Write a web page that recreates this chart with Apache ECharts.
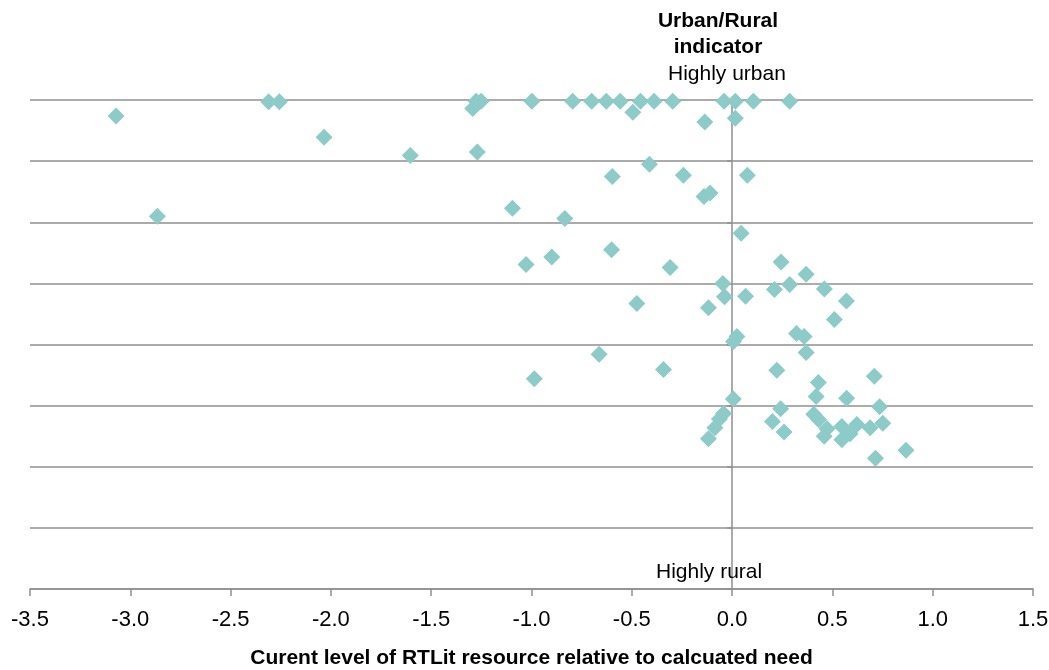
<!DOCTYPE html>
<html>
<head>
<meta charset="utf-8">
<script src="https://cdn.jsdelivr.net/npm/echarts@6/dist/echarts.min.js"></script>
<style>
html,body{margin:0;padding:0;background:#fff;}
#chart{width:1049px;height:670px;}
</style>
</head>
<body>
<div id="chart"></div>
<script>
// Current level of RTLit resource relative to calculated need (x)
const resourceLevel = [
  -3.071,-2.310,-2.257,-2.034,-1.604,-1.270,-1.293,-1.276,-1.251,-2.865,
  -1.095,-0.998,-0.795,-0.700,-0.627,-0.558,-0.457,-0.389,-0.296,-0.040,
  0.016,0.106,0.287,-0.495,-0.136,0.016,-0.412,-0.597,-0.243,-0.140,
  -0.110,0.076,-0.834,0.045,-1.027,-0.899,-0.601,-0.309,0.244,0.369,
  -0.046,-0.038,0.067,-0.118,-0.475,0.211,0.287,0.460,0.570,0.510,
  0.321,0.359,0.369,0.024,0.007,-0.663,-0.986,-0.342,0.223,0.709,
  0.430,0.419,0.571,0.735,0.006,0.242,-0.043,-0.063,-0.086,-0.118,
  0.201,0.259,0.407,0.432,0.473,0.459,0.547,0.547,0.588,0.622,
  0.688,0.751,0.715,0.867
];
// Urban/Rural indicator (8 = highly urban, 0 = highly rural)
const urbanRural = [
  7.74,7.97,7.97,7.39,7.09,7.15,7.86,7.98,7.98,6.10,
  6.23,7.98,7.98,7.98,7.98,7.98,7.98,7.98,7.98,7.98,
  7.98,7.98,7.98,7.80,7.64,7.70,6.95,6.75,6.77,6.42,
  6.48,6.77,6.06,5.82,5.31,5.43,5.55,5.26,5.35,5.15,
  5.00,4.78,4.79,4.60,4.67,4.90,4.98,4.91,4.71,4.41,
  4.18,4.13,3.87,4.13,4.05,3.84,3.44,3.59,3.58,3.48,
  3.38,3.15,3.12,2.98,3.11,2.95,2.87,2.78,2.64,2.46,
  2.74,2.57,2.86,2.77,2.62,2.50,2.66,2.44,2.54,2.69,
  2.64,2.71,2.14,2.27
];
const xTicks = {min: -3.5, max: 1.5, step: 0.5};
const yTicks = {min: 0, max: 8, step: 1};
const xTitle = 'Curent level of RTLit resource relative to calcuated need';
const yTitle = ['Urban/Rural', 'indicator'];
const topLabel = 'Highly urban';
const bottomLabel = 'Highly rural';

const points = resourceLevel.map((v, i) => [v, urbanRural[i]]);
const FONT = '"Liberation Sans", Arial, sans-serif';
const grey = '#8f8f8f';

const chart = echarts.init(document.getElementById('chart'), null, {renderer: 'canvas'});
chart.setOption({
  animation: false,
  backgroundColor: '#ffffff',
  grid: {left: 30, right: 16, top: 100, bottom: 81, containLabel: false, outerBoundsMode: 'none'},
  xAxis: {
    type: 'value',
    min: xTicks.min, max: xTicks.max, interval: xTicks.step,
    name: xTitle,
    nameLocation: 'middle',
    nameGap: 59,
    nameTextStyle: {fontFamily: FONT, fontSize: 21, fontWeight: 'bold', color: '#000'},
    axisLine: {onZero: false, lineStyle: {color: grey, width: 1.5}},
    axisTick: {show: true, length: 7, lineStyle: {color: grey, width: 1.5}},
    axisLabel: {
      fontFamily: FONT, fontSize: 22, color: '#000', margin: 20,
      formatter: v => v.toFixed(1)
    },
    splitLine: {show: false}
  },
  yAxis: {
    type: 'value',
    min: yTicks.min, max: yTicks.max, interval: yTicks.step,
    axisLine: {show: true, onZero: true, lineStyle: {color: grey, width: 1.5}},
    axisTick: {show: true, length: 5, lineStyle: {color: grey, width: 1.5}},
    axisLabel: {show: false},
    splitLine: {show: true, lineStyle: {color: grey, width: 1.5}}
  },
  graphic: [
    {type: 'text', left: 656, top: 8, z: 10,
     style: {text: yTitle.join('\n'), font: 'bold 21px ' + FONT, fill: '#000', textAlign: 'center', lineHeight: 26, width: 124, overflow: 'none'}},
    {type: 'text', left: 668, top: 64, z: 10,
     style: {text: topLabel, font: '21px ' + FONT, fill: '#000'}},
    {type: 'text', left: 656, top: 562, z: 10,
     style: {text: bottomLabel, font: '21px ' + FONT, fill: '#000'}}
  ],
  series: [{
    type: 'scatter',
    data: points,
    symbol: 'diamond',
    symbolSize: 17,
    itemStyle: {color: '#8ccbc8', opacity: 1}
  }]
});
</script>
</body>
</html>
